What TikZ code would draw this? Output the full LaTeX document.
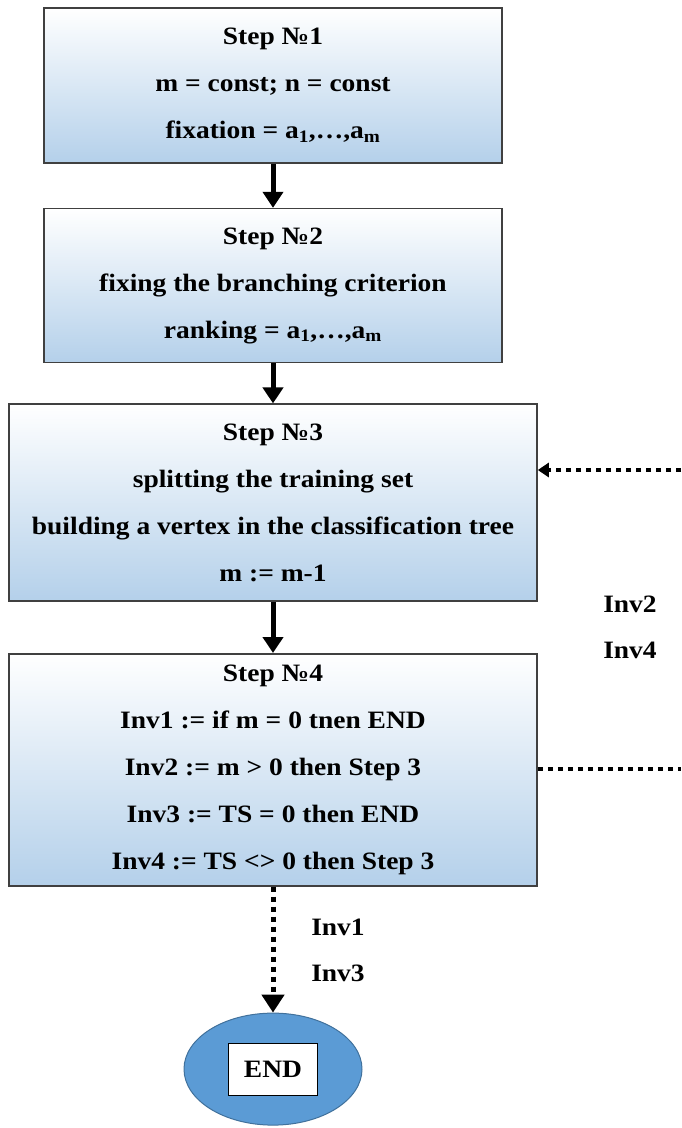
\documentclass[tikz,border=0pt]{standalone}
\usepackage{fontspec}
\setmainfont[FakeStretch=1.1]{Liberation Serif}
\usetikzlibrary{positioning,shapes.geometric,arrows.meta}
\definecolor{boxblue}{RGB}{180,208,234}
\definecolor{endblue}{RGB}{91,155,213}
\definecolor{endedge}{RGB}{65,113,156}

\begin{document}
\begin{tikzpicture}[
        x=1pt, y=-1pt,
        node distance=44pt,
        stepbox/.style 2 args={rectangle, draw=black!75, line width=1.6pt,
            top color=white, bottom color=boxblue,
            minimum width=#1, minimum height=#2,
            align=center, font=\bfseries\fontsize{25}{47}\selectfont},
        invlabel/.style={align=center, font=\bfseries\fontsize{25}{46}\selectfont},
        flow/.style={-{Triangle[width=20pt,length=16pt]}, line width=5pt},
        dotflow/.style={line width=5pt, dash pattern=on 5pt off 5pt}
    ]
        \useasboundingbox (0,0) rectangle (681,1128);

        \node[stepbox={458pt}{155pt}] (step1) at (273,85.5)
            {Step №1\\m = const; n = const\\fixation = a\textsubscript{1},…,a\textsubscript{m}};
        \node[stepbox={458pt}{154pt}, below=of step1] (step2)
            {Step №2\\fixing the branching criterion\\ranking = a\textsubscript{1},…,a\textsubscript{m}};
        \node[stepbox={528pt}{197pt}, below=40pt of step2] (step3)
            {Step №3\\splitting the training set\\building a vertex in the classification tree\\m := m-1};
        \node[stepbox={528pt}{232pt}, below=51pt of step3] (step4)
            {Step №4\\Inv1 := if m = 0 tnen END\\Inv2 := m > 0 then Step 3\\Inv3 := TS = 0 then END\\Inv4 := TS <> 0 then Step 3};

        \node[ellipse, draw=endedge, line width=1pt, fill=endblue,
            minimum width=178pt, minimum height=112pt, below=126pt of step4] (endnode) {};
        \node[rectangle, draw=black, line width=1.2pt, fill=white,
            minimum width=89pt, minimum height=52pt,
            font=\bfseries\fontsize{25}{29}\selectfont] (endlabel) at (endnode) {END};

        \coordinate (loopin) at (681,470);
        \coordinate (loopout) at (681,769);

        \draw[flow] (step1) -- (step2);
        \draw[flow] (step2) -- (step3);
        \draw[flow] (step3) -- (step4);
        \draw[dotflow, -{Triangle[width=22pt,length=18pt]}] (step4) -- (endnode.north);
        \draw[dotflow, line width=4pt] (step4.east |- loopout) -- (loopout);
        \draw[dotflow, line width=4pt, -{Triangle[width=14pt,length=11pt]}] (loopin) -- (step3.east |- loopin);

        \node[invlabel] (inv24) at (630,627) {Inv2\\Inv4};
        \node[invlabel] (inv13) at (338,950) {Inv1\\Inv3};
    \end{tikzpicture}
\end{document}
